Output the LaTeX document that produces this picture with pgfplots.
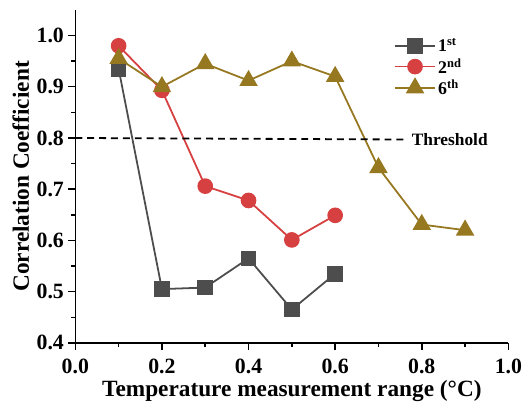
\documentclass[border=0pt]{standalone}
\usepackage{pgfplots}
\pgfplotsset{compat=1.18}
\usepackage{fontspec}
\setmainfont{Liberation Serif}
\definecolor{cA}{RGB}{77,77,77}
\definecolor{cB}{RGB}{214,64,64}
\definecolor{cC}{RGB}{150,120,32}
\begin{document}
\begin{tikzpicture}
\begin{axis}[
  scale only axis, width=437pt, height=336pt,
  xmin=0, xmax=1, ymin=0.4, ymax=1.05,
  axis x line*=bottom, axis y line*=left,
  axis line style={line width=1.5pt, -},
  xtick={0,0.2,...,1.0}, ytick={0.4,0.5,...,1.0},
  minor x tick num=1, minor y tick num=1,
  tick align=outside,
  major tick length=7pt, minor tick length=4pt,
  every tick/.style={black, line width=1.5pt},
  xticklabel={\fontsize{22}{22}\selectfont\bfseries\pgfmathprintnumber[fixed, fixed zerofill, precision=1, assume math mode=true]{\tick}},
  yticklabel={\fontsize{22}{22}\selectfont\bfseries\pgfmathprintnumber[fixed, fixed zerofill, precision=1, assume math mode=true]{\tick}},
  xticklabel style={yshift=-8pt, inner sep=1pt},
  yticklabel style={xshift=-1pt},
  xlabel={Temperature measurement range (°C)},
  ylabel={Correlation Coefficient},
  label style={font=\fontsize{23.5}{24}\selectfont\bfseries, inner sep=1pt},
  xlabel style={at={([yshift=-49pt]axis description cs:0.5,0)}, anchor=center},
  ylabel style={at={([xshift=-55pt]axis description cs:0,0.5)}, anchor=center},
  legend style={draw=none, fill=none, at={(rel axis cs:0.735,0.92)}, anchor=north west,
    font=\fontsize{18}{22}\selectfont\bfseries, row sep=1pt, inner sep=0pt},
  legend cell align=left,
  legend image code/.code={\draw[#1, mark=none] (0pt,0pt) -- (41pt,0pt); \draw[#1] plot coordinates {(20.5pt,0pt)};},
]
\addplot[cA, line width=1.8pt, mark=square*, mark size=7pt, mark options={solid, fill=cA}] coordinates {
(0.1,0.935) (0.2,0.505) (0.3,0.508) (0.4,0.565) (0.5,0.465) (0.6,0.535)};
\addlegendentry{1\textsuperscript{st}}
\addplot[cB, line width=1.8pt, mark=*, mark size=7pt, mark options={solid, fill=cB}] coordinates {
(0.1,0.980) (0.2,0.893) (0.3,0.706) (0.4,0.678) (0.5,0.601) (0.6,0.649)};
\addlegendentry{2\textsuperscript{nd}}
\addplot[cC, line width=1.8pt, mark=triangle*, mark size=9pt, mark options={solid, fill=cC}] coordinates {
(0.1,0.955) (0.2,0.900) (0.3,0.945) (0.4,0.912) (0.5,0.950) (0.6,0.920) (0.7,0.742) (0.8,0.631) (0.9,0.620)};
\addlegendentry{6\textsuperscript{th}}
\addplot[black, dashed, line width=1.8pt, dash pattern=on 7pt off 5pt, forget plot] coordinates {(0,0.800) (0.765,0.797)};
\node[anchor=west, font=\fontsize{17.5}{20}\selectfont\bfseries, inner sep=2pt] at (axis cs:0.772,0.797) {Threshold};
\end{axis}
\path (current axis.south west) ++(-76pt,-59pt) coordinate (bl);
\path (current axis.south west) ++(447pt,346pt) coordinate (tr);
\useasboundingbox (bl) rectangle (tr);
\end{tikzpicture}
\end{document}
